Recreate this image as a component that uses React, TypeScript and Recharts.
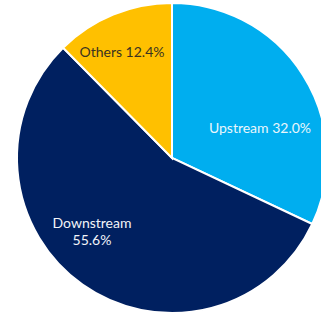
import { PieChart, Pie, Cell } from 'recharts';

const segments = ['Upstream', 'Downstream', 'Others'];
const shares = [32.0, 55.6, 12.4];
const colors = ['#00AEEF', '#002060', '#FFC000'];
const textColors = ['#EAF6FC', '#F2F4F8', '#3A3320'];

const data = segments.map((name, i) => ({ name, value: shares[i] }));

// label offsets from the pie centre, by slice
const labelOffsets = [
  { dx: 88, dy: -30 },
  { dx: -80, dy: 70 },
  { dx: -50, dy: -106 },
];

function renderLabel(props: any) {
  const { cx, cy, index } = props;
  const o = labelOffsets[index];
  const x = cx + o.dx;
  const y = cy + o.dy;
  const entry = data[index];
  const pct = `${entry.value.toFixed(1)}%`;
  const common = {
    fill: textColors[index],
    fontFamily: 'Lato, sans-serif',
    fontSize: 14,
    textAnchor: 'middle' as const,
  };
  if (index === 1) {
    return (
      <text x={x} y={y} {...common}>
        <tspan x={x} dy={0}>{entry.name}</tspan>
        <tspan x={x} dy={17}>{pct}</tspan>
      </text>
    );
  }
  return (
    <text x={x} y={y} dy={5} {...common}>
      {`${entry.name} ${pct}`}
    </text>
  );
}

export default function App() {
  return (
    <div style={{ position: 'absolute', left: 0, top: 0, width: 321, height: 320, background: '#fff' }}>
      <PieChart width={321} height={320} margin={{ top: 0, right: 0, bottom: 0, left: 0 }}>
        <Pie
          data={data}
          dataKey="value"
          nameKey="name"
          cx={172}
          cy={158}
          outerRadius={155}
          startAngle={90}
          endAngle={-270}
          stroke="#fff"
          strokeWidth={2}
          label={renderLabel}
          labelLine={false}
          isAnimationActive={false}
        >
          {data.map((d, i) => (
            <Cell key={d.name} fill={colors[i]} />
          ))}
        </Pie>
      </PieChart>
    </div>
  );
}
